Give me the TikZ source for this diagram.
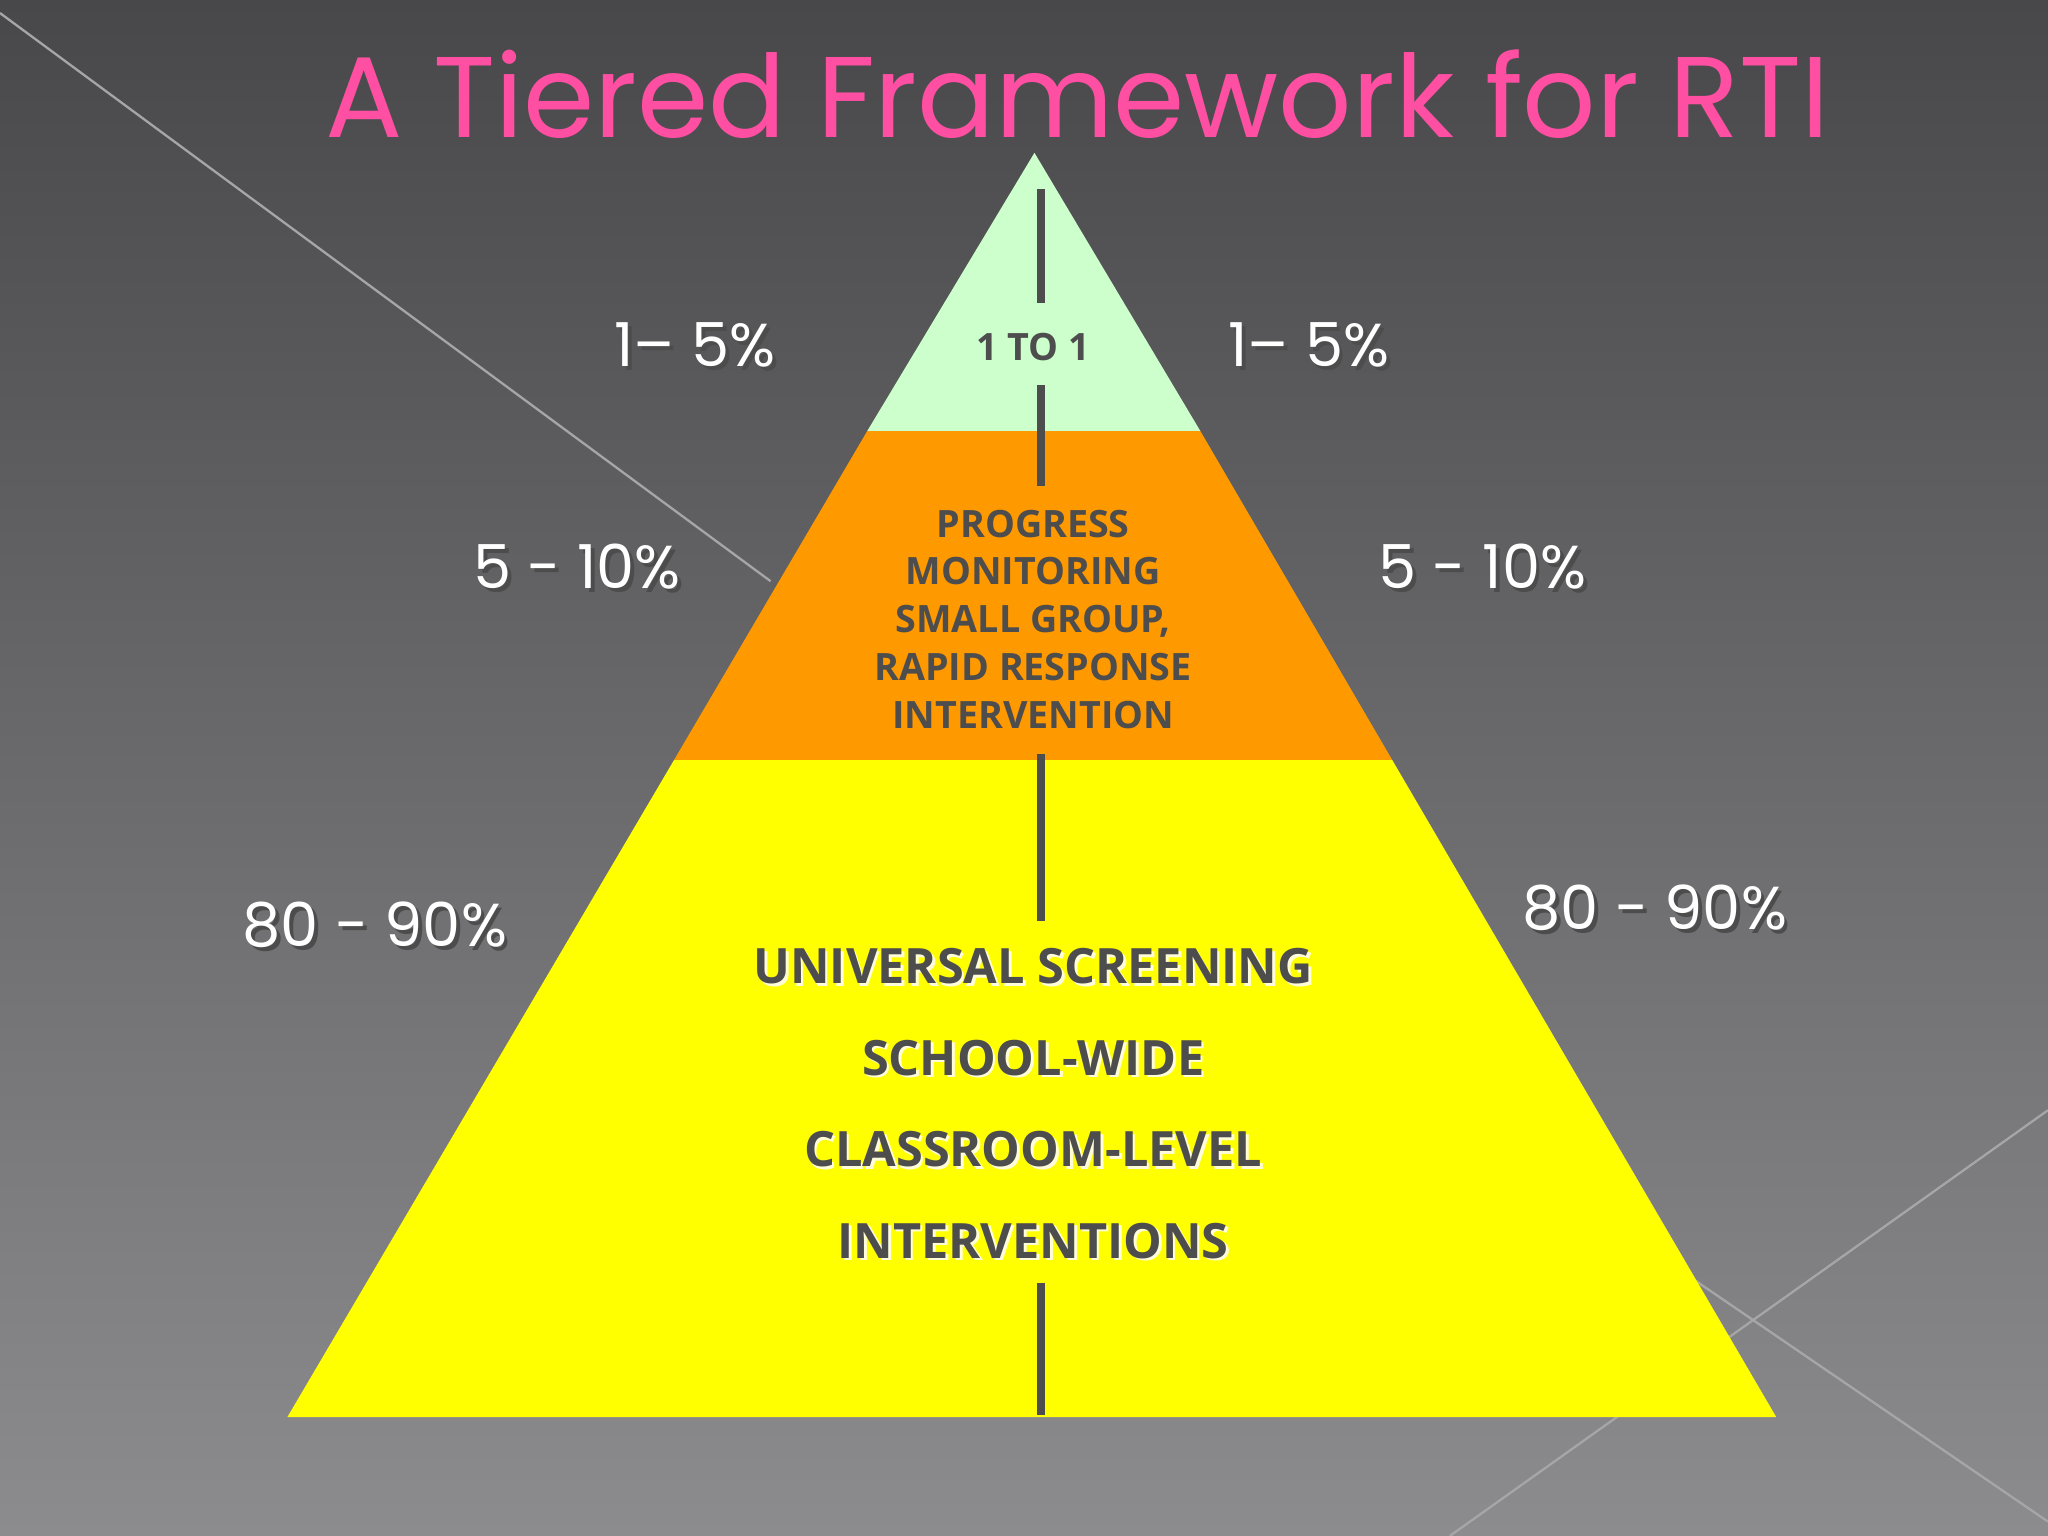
\documentclass[tikz,border=0pt]{standalone}
\usepackage{fontspec}
\setmainfont{Poppins}
\newfontfamily\tierfont{Open Sans}
\usetikzlibrary{shadows}
\definecolor{bgtop}{HTML}{48484A}
\definecolor{bgbot}{HTML}{8C8C8E}
\definecolor{pinkt}{HTML}{FF4FA3}
\definecolor{mint}{HTML}{CCFFCC}
\definecolor{orng}{HTML}{FF9900}
\definecolor{yel}{HTML}{FFFF00}
\definecolor{txtg}{HTML}{4D4D4D}
\begin{document}
\begin{tikzpicture}[x=0.01cm,y=-0.01cm,
  pct/.style={text=white,font=\fontsize{13.2}{16}\selectfont},
  pctsh/.style={text=black!70,font=\fontsize{13.2}{16}\selectfont},
  tiertxt/.style={text=txtg,font=\tierfont\bfseries\fontsize{8.2}{10.4}\selectfont,align=center},
  bigtxt/.style={text=txtg,font=\tierfont\bfseries\fontsize{10.6}{19.9}\selectfont,align=center},
  axis/.style={draw=txtg,line width=1.6pt}]
\shade[top color=bgtop,bottom color=bgbot] (0,0) rectangle (1568,1176);
\useasboundingbox (0,0) rectangle (1568,1176);
\draw[gray!70,line width=0.5pt] (0,10) -- (590,445);
\draw[gray!70,line width=0.5pt] (1568,850) -- (1110,1176);
\draw[gray!70,line width=0.5pt] (1290,975) -- (1568,1165);
\node (title) at (825,72) {\color{pinkt}\fontsize{25}{30}\selectfont A Tiered Framework for RTI};
% tiers
\coordinate (apex) at (792,117);
\coordinate (l1) at (664,330); \coordinate (r1) at (919,330);
\coordinate (l2) at (516,582); \coordinate (r2) at (1066,582);
\coordinate (bl) at (220,1085); \coordinate (br) at (1360,1085);
\fill[mint] (apex) -- (r1) -- (l1) -- cycle;
\fill[orng] (l1) -- (r1) -- (r2) -- (l2) -- cycle;
\fill[yel] (l2) -- (r2) -- (br) -- (bl) -- cycle;
% axis segments
\coordinate (a1) at (797,145); \coordinate (a2) at (797,232);
\coordinate (a3) at (797,295); \coordinate (a4) at (797,372);
\coordinate (a5) at (797,577); \coordinate (a6) at (797,705);
\coordinate (a7) at (797,982); \coordinate (a8) at (797,1083);
\draw[axis] (a1)--(a2); \draw[axis] (a3)--(a4); \draw[axis] (a5)--(a6); \draw[axis] (a7)--(a8);
% tier texts
\node[tiertxt] (t1) at (791,266) {1 TO 1};
\node[tiertxt] (t2) at (791,474) {PROGRESS\\MONITORING\\SMALL GROUP,\\RAPID RESPONSE\\INTERVENTION};
\node[bigtxt,text=white!85!yellow] at (793,847) {UNIVERSAL SCREENING\\SCHOOL-WIDE\\CLASSROOM-LEVEL\\INTERVENTIONS};
\node[bigtxt] (t3) at (791,845) {UNIVERSAL SCREENING\\SCHOOL-WIDE\\CLASSROOM-LEVEL\\INTERVENTIONS};
% percentages
\foreach \n/\x/\y/\t in {p1/532/264/{1– 5\%},p2/1002/264/{1– 5\%},p3/442/434/{5 - 10\%},p4/1135/434/{5 - 10\%},p5/287/708/{80 - 90\%},p6/1267/695/{80 - 90\%}}{
  \node[pctsh] at (\x+3,\y+3) {\t};
  \node[pct] (\n) at (\x,\y) {\t};
}
\end{tikzpicture}
\end{document}
